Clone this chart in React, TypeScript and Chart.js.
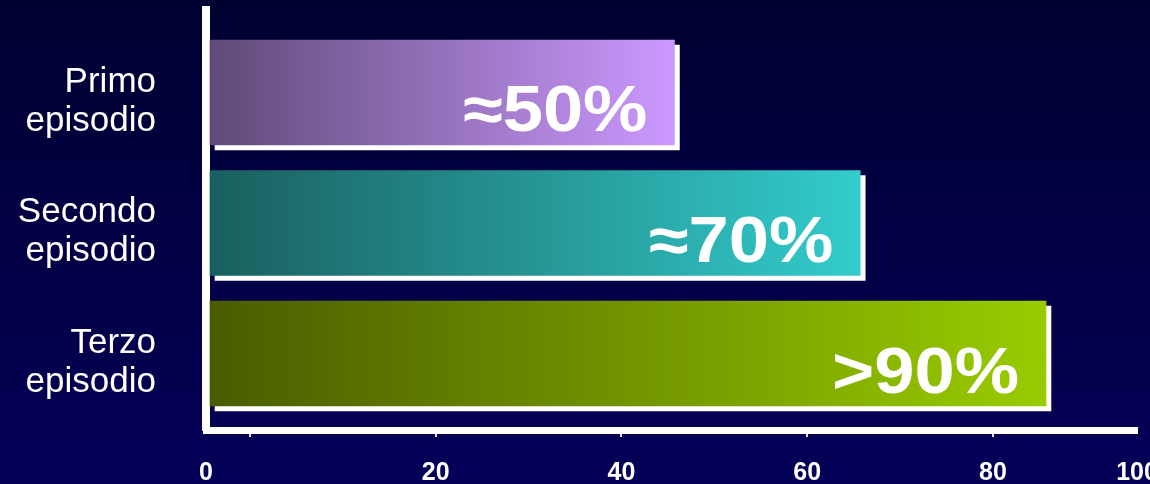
import { useEffect, useRef } from 'react';
import { Chart, registerables } from 'chart.js';

Chart.register(...registerables);

// Recurrence risk after each episode
const CATEGORIES: string[][] = [
  ['Primo', 'episodio'],
  ['Secondo', 'episodio'],
  ['Terzo', 'episodio'],
];
const RECURRENCE = [50, 70, 90];
const VALUE_LABELS = ['≈50%', '≈70%', '>90%'];

// Horizontal gradient of each bar, dark at the base, bright at the tip
const BAR_START_COLORS = ['#5f4a78', '#1a5f5f', '#4a5c00'];
const BAR_END_COLORS = ['#cc99ff', '#33cccc', '#99cc00'];

// Axis tick marks and the labels printed under the axis
const TICK_MARKS = [0, 20, 40, 60, 80];
const TICK_LABELS = ['0', '20', '40', '60', '80', '100'];

const FONT = "'Liberation Sans', Arial, Helvetica, sans-serif";

// Value range of the bar scale; the tick-mark axis is shifted right of it
const X_MIN = -0.43;
const X_MAX = 99.8;
const TICK_SHIFT = 4.3;

const backgroundPlugin = {
  id: 'navyBackground',
  beforeDraw(chart: Chart) {
    const { ctx, width, height } = chart;
    const g = ctx.createLinearGradient(0, 0, 0, height);
    g.addColorStop(0, '#000030');
    g.addColorStop(1, '#050058');
    ctx.save();
    ctx.fillStyle = g;
    ctx.fillRect(0, 0, width, height);
    ctx.restore();
  },
};

// White drop shadow behind every bar
const barShadowPlugin = {
  id: 'barShadow',
  beforeDatasetDraw(chart: Chart) {
    const ctx = chart.ctx;
    ctx.save();
    ctx.shadowColor = '#ffffff';
    ctx.shadowOffsetX = 5;
    ctx.shadowOffsetY = 5;
    ctx.shadowBlur = 0;
  },
  afterDatasetDraw(chart: Chart) {
    chart.ctx.restore();
  },
};

// Large percentage written inside the tip of each bar
const valueLabelPlugin = {
  id: 'valueLabels',
  afterDatasetsDraw(chart: Chart) {
    const ctx = chart.ctx;
    const meta = chart.getDatasetMeta(0);
    meta.data.forEach((el: any, i: number) => {
      ctx.save();
      ctx.translate(el.x - 27, el.y + 39);
      ctx.scale(1.13, 1);
      ctx.font = `bold 64px ${FONT}`;
      ctx.fillStyle = '#ffffff';
      ctx.textAlign = 'right';
      ctx.textBaseline = 'alphabetic';
      ctx.fillText(VALUE_LABELS[i], 0, 0);
      ctx.restore();
    });
  },
};

export default function App() {
  const canvasRef = useRef<HTMLCanvasElement | null>(null);

  useEffect(() => {
    const canvas = canvasRef.current;
    if (!canvas) return;

    const chart = new Chart(canvas, {
      type: 'bar',
      data: {
        datasets: [
          {
            data: RECURRENCE.map((v, i) => ({ x: v, y: i + 1 })),
            barThickness: 105,
            borderWidth: 0,
            backgroundColor: (c: any) => {
              if (c.type !== 'data') return BAR_END_COLORS[0];
              const i = c.dataIndex;
              const xs = c.chart.scales.x;
              const x0 = xs ? xs.getPixelForValue(0) : NaN;
              const x1 = xs ? xs.getPixelForValue(RECURRENCE[i]) : NaN;
              if (!Number.isFinite(x0) || !Number.isFinite(x1) || x0 === x1) return BAR_END_COLORS[i];
              const g = c.chart.ctx.createLinearGradient(x0, 0, x1, 0);
              g.addColorStop(0, BAR_START_COLORS[i]);
              g.addColorStop(1, BAR_END_COLORS[i]);
              return g;
            },
          },
        ],
      },
      options: {
        indexAxis: 'y',
        animation: false,
        responsive: false,
        events: [],
        layout: { padding: { top: 10, right: 13, bottom: 0, left: 0 } },
        plugins: {
          legend: { display: false },
          tooltip: { enabled: false },
        },
        scales: {
          x: {
            type: 'linear',
            display: false,
            min: X_MIN,
            max: X_MAX,
          },
          x2: {
            type: 'linear',
            position: 'bottom',
            min: X_MIN - TICK_SHIFT,
            max: X_MAX - TICK_SHIFT,
            afterBuildTicks: (s: any) => {
              s.ticks = [{ value: s.min }, ...TICK_MARKS.map((v) => ({ value: v })), { value: s.max }];
            },
            afterFit: (s: any) => {
              s.height = 54;
              s.paddingLeft = 0;
              s.paddingRight = 0;
            },
            border: { display: true, color: '#ffffff', width: 7 },
            grid: {
              drawOnChartArea: false,
              drawTicks: true,
              tickLength: 7,
              lineWidth: 2,
              color: (c: any) => {
                const n = c.scale.ticks.length;
                return c.index === 0 || c.index === n - 1 ? 'rgba(0,0,0,0)' : '#e4e4ee';
              },
            },
            ticks: {
              autoSkip: false,
              maxRotation: 0,
              padding: 21,
              color: '#ffffff',
              font: { family: FONT, size: 25, weight: 'bold' },
              callback: (_v: any, index: number, ticks: any[]) => {
                if (index === 0) return TICK_LABELS[0];
                if (index === ticks.length - 1) return TICK_LABELS[TICK_LABELS.length - 1];
                if (index === 1) return '';
                return TICK_LABELS[index - 1];
              },
            },
          },
          y: {
            type: 'linear',
            reverse: true,
            offset: false,
            min: 0.368,
            max: 3.586,
            afterBuildTicks: (s: any) => {
              s.ticks = CATEGORIES.map((_, i) => ({ value: i + 1 }));
            },
            afterFit: (s: any) => {
              s.width = 206;
              s.paddingTop = 0;
              s.paddingBottom = 0;
            },
            border: { display: true, color: '#ffffff', width: 8 },
            grid: { display: false, offset: false },
            ticks: {
              padding: 42,
              labelOffset: 9,
              color: '#ffffff',
              font: { family: FONT, size: 35, lineHeight: 1.12 },
              callback: (v: any) => CATEGORIES[Number(v) - 1] ?? '',
            },
          },
        },
      },
      plugins: [backgroundPlugin, barShadowPlugin, valueLabelPlugin],
    } as any);

    return () => chart.destroy();
  }, []);

  return (
    <div style={{ position: 'fixed', left: 0, top: 0, width: 1150, height: 484, background: '#000030' }}>
      <canvas ref={canvasRef} width={1150} height={484} style={{ display: 'block' }} />
    </div>
  );
}
